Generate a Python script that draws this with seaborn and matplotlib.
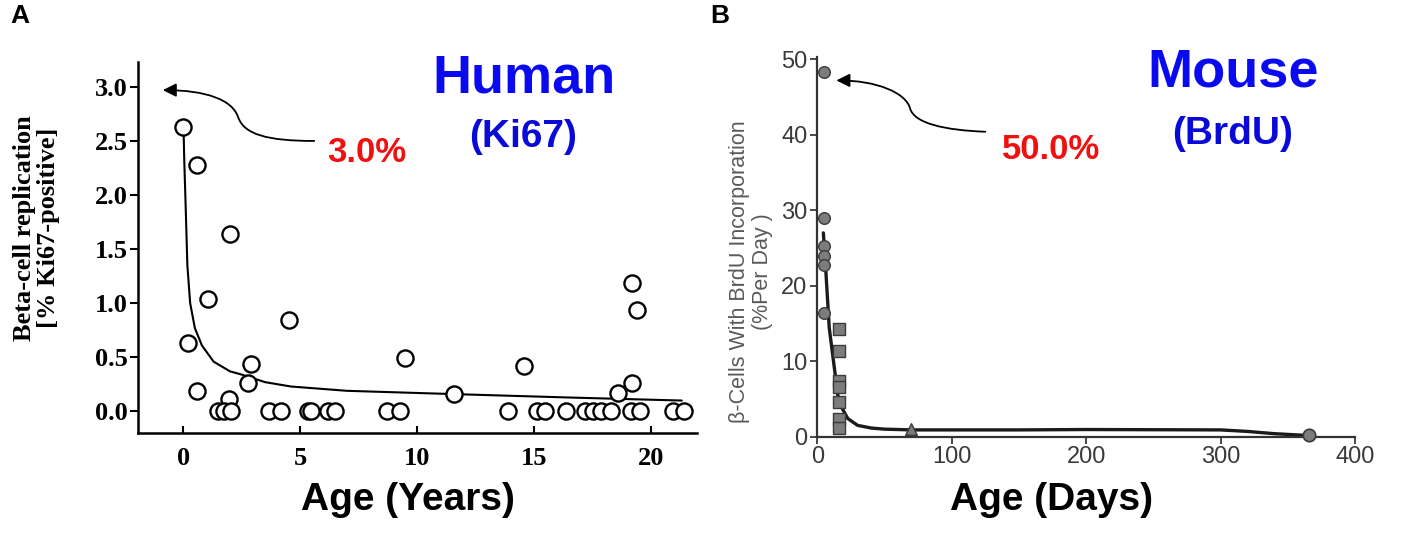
import seaborn as sns
import matplotlib.pyplot as plt
from matplotlib.path import Path
from matplotlib.patches import FancyArrowPatch

# ---- Panel A: humano (Ki67) ----
edad_h = [0.0, 0.58, 2.02, 1.06, 4.52, 0.19, 2.88, 2.79, 0.58, 1.96, 9.46, 11.58,
          14.56, 19.17, 19.37, 19.17, 18.56,
          1.5, 1.75, 2.04, 3.65, 4.16, 5.33, 5.46, 6.2, 6.48, 8.71, 9.25, 13.88,
          15.1, 15.45, 16.36, 17.15, 17.52, 17.85, 18.27, 19.14, 19.5, 20.94, 21.41]
ki67_h = [2.63, 2.28, 1.64, 1.04, 0.845, 0.63, 0.44, 0.26, 0.19, 0.11, 0.49, 0.16,
          0.42, 1.19, 0.94, 0.26, 0.17,
          0, 0, 0, 0, 0, 0, 0, 0, 0, 0, 0, 0,
          0, 0, 0, 0, 0, 0, 0, 0, 0, 0, 0]
# curva ajustada
curva_h_x = [0.02, 0.05, 0.10, 0.18, 0.30, 0.50, 0.80, 1.30, 2.0, 2.5, 3.5, 4.6,
             7.0, 11.5, 16.5, 21.3]
curva_h_y = [2.58, 2.30, 1.95, 1.35, 1.00, 0.77, 0.61, 0.46, 0.37, 0.34, 0.27, 0.23,
             0.19, 0.16, 0.128, 0.10]
xticks_h = [0, 5, 10, 15, 20]
yticks_h = [0.0, 0.5, 1.0, 1.5, 2.0, 2.5, 3.0]

# ---- Panel B: raton (BrdU) ----
dias_circ = [4.8, 4.8, 4.8, 4.8, 4.8, 4.8]
brdu_circ = [48.3, 29.0, 25.3, 24.0, 22.7, 16.4]
dias_cuad = [16, 16, 16, 16, 16, 16, 16]
brdu_cuad = [14.3, 11.4, 7.4, 6.6, 4.6, 2.3, 1.2]
dias_tri = [70]
brdu_tri = [1.0]
dias_dia = [366]
brdu_dia = [0.25]
curva_m_x = [4.5, 6.4, 8.9, 12.7, 15.2, 17.7, 22.7, 30, 40, 50, 70, 150, 200, 300,
             320, 340, 366]
curva_m_y = [27.0, 21.8, 14.4, 9.1, 5.6, 4.0, 2.4, 1.5, 1.15, 1.0, 0.9, 0.9, 0.95,
             0.9, 0.7, 0.4, 0.15]
xticks_m = [0, 100, 200, 300, 400]
yticks_m = [0, 10, 20, 30, 40, 50]

sns.set_style("white")
plt.rcParams['font.family'] = ['Liberation Sans', 'DejaVu Sans']
plt.rcParams['text.color'] = 'black'
plt.rcParams['axes.labelcolor'] = 'black'

fig = plt.figure(figsize=(14.02, 5.34), dpi=100)
W, H = 1402, 534
axA = fig.add_axes([137.5 / W, 1 - 433 / H, 559.5 / W, 371 / H])
axB = fig.add_axes([817.3 / W, 1 - 436.7 / H, 537.7 / W, 379.7 / H])

serif = ['Liberation Serif', 'DejaVu Serif']

# ---------- A ----------
sns.lineplot(x=curva_h_x, y=curva_h_y, ax=axA, color="black", linewidth=1.5,
             sort=False, estimator=None)
sns.scatterplot(x=edad_h, y=ki67_h, ax=axA, marker="o", s=135,
                facecolor="white", edgecolor="black", linewidth=1.7, zorder=3)
axA.set_xlim(-1.95, 21.95)
axA.set_ylim(-0.2, 3.23)
axA.set_xticks(xticks_h)
axA.set_xticklabels([str(v) for v in xticks_h], family=serif, fontweight="bold",
                    fontsize=19, color="black")
axA.set_yticks(yticks_h)
axA.set_yticklabels([f"{v:.1f}" for v in yticks_h], family=serif,
                    fontweight="bold", fontsize=19, color="black")
axA.tick_params(axis="y", direction="out", length=6, width=1.5, pad=1, left=True,
                color="black")
axA.tick_params(axis="x", direction="in", length=5, width=1.5, pad=10, bottom=True,
                color="black")
for s in ["top", "right"]:
    axA.spines[s].set_visible(False)
for s in ["left", "bottom"]:
    axA.spines[s].set_linewidth(1.8)
    axA.spines[s].set_color("black")

axA.set_ylabel("Beta-cell replication\n[% Ki67-positive]", family=serif,
               fontweight="bold", fontsize=19, linespacing=1.1)
axA.yaxis.set_label_coords(-0.1805, 0.553)
axA.yaxis.label.set_va("center")
axA.set_xlabel("Age (Years)", fontweight="bold", fontsize=28)
axA.xaxis.set_label_coords(0.483, -0.18)
axA.xaxis.label.set_va("center")

axA.text(14.56, 3.08, "Human", color="#0a0af0", fontweight="bold", fontsize=39,
         ha="center", va="center", clip_on=False)
axA.text(14.54, 2.54, "(Ki67)", color="#0a0ad8", fontweight="bold", fontsize=28,
         ha="center", va="center")
axA.text(7.85, 2.39, "3.0%", color="#f01010", fontweight="bold", fontsize=25,
         ha="center", va="center")

ruta_a = Path([(5.6, 2.50), (3.6, 2.50), (2.6, 2.56), (2.35, 2.72),
               (2.1, 2.88), (1.0, 2.97), (-0.87, 2.97)],
              [Path.MOVETO, Path.CURVE4, Path.CURVE4, Path.CURVE4,
               Path.CURVE4, Path.CURVE4, Path.CURVE4])
axA.add_patch(FancyArrowPatch(path=ruta_a, arrowstyle="-|>,head_length=0.5,head_width=0.25",
                              mutation_scale=16, color="black", linewidth=1.3))

# ---------- B ----------
gris = "#7c7c7c"
borde = "#3a3a3a"
sns.lineplot(x=curva_m_x, y=curva_m_y, ax=axB, color="#1a1a1a", linewidth=2.4,
             sort=False, estimator=None)
sns.scatterplot(x=dias_circ, y=brdu_circ, ax=axB, marker="o", s=70, color=gris,
                edgecolor=borde, linewidth=1.0, zorder=3)
sns.scatterplot(x=dias_cuad, y=brdu_cuad, ax=axB, marker="s", s=70, color=gris,
                edgecolor=borde, linewidth=1.0, zorder=3)
sns.scatterplot(x=dias_tri, y=brdu_tri, ax=axB, marker="^", s=70, color=gris,
                edgecolor=borde, linewidth=1.0, zorder=3)
sns.scatterplot(x=dias_dia, y=brdu_dia, ax=axB, marker="o", s=80, color=gris,
                edgecolor=borde, linewidth=1.2, zorder=3, clip_on=False)
axB.set_xlim(0, 400)
axB.set_ylim(0, 50.3)
axB.set_xticks(xticks_m)
axB.set_xticklabels([str(v) for v in xticks_m], fontsize=17, color="#3a3a3a")
axB.set_yticks(yticks_m)
axB.set_yticklabels([str(v) for v in yticks_m], fontsize=17, color="#3a3a3a")
axB.tick_params(axis="both", direction="out", length=5, width=1.3, pad=2,
                left=True, bottom=True, colors="#3a3a3a", labelcolor="#3a3a3a")
for s in ["top", "right"]:
    axB.spines[s].set_visible(False)
for s in ["left", "bottom"]:
    axB.spines[s].set_linewidth(1.6)
    axB.spines[s].set_color("#333333")

axB.set_ylabel("β-Cells With BrdU Incorporation\n(%Per Day )", fontsize=15.5,
               color="#5a5a5a", linespacing=1.1)
axB.yaxis.set_label_coords(-0.123, 0.434)
axB.yaxis.label.set_va("center")
axB.set_xlabel("Age (Days)", fontweight="bold", fontsize=28)
axB.xaxis.set_label_coords(0.435, -0.167)
axB.xaxis.label.set_va("center")

axB.text(309, 48.3, "Mouse", color="#0a0af0", fontweight="bold", fontsize=39,
         ha="center", va="center", clip_on=False)
axB.text(309, 40.1, "(BrdU)", color="#0a0ad8", fontweight="bold", fontsize=28,
         ha="center", va="center")
axB.text(174, 38.1, "50.0%", color="#f01010", fontweight="bold", fontsize=25,
         ha="center", va="center")

ruta_b = Path([(125, 40.4), (95, 40.6), (72, 41.5), (69, 43.5),
               (66, 45.5), (45, 47.2), (14.2, 47.2)],
              [Path.MOVETO, Path.CURVE4, Path.CURVE4, Path.CURVE4,
               Path.CURVE4, Path.CURVE4, Path.CURVE4])
axB.add_patch(FancyArrowPatch(path=ruta_b, arrowstyle="-|>,head_length=0.5,head_width=0.25",
                              mutation_scale=16, color="black", linewidth=1.3))

# letras de panel
fig.text(20 / W, 1 - 16 / H, "A", fontweight="bold", fontsize=19, ha="center", va="center")
fig.text(720 / W, 1 - 16 / H, "B", fontweight="bold", fontsize=19, ha="center", va="center")

fig.savefig("out.png", dpi=100)
